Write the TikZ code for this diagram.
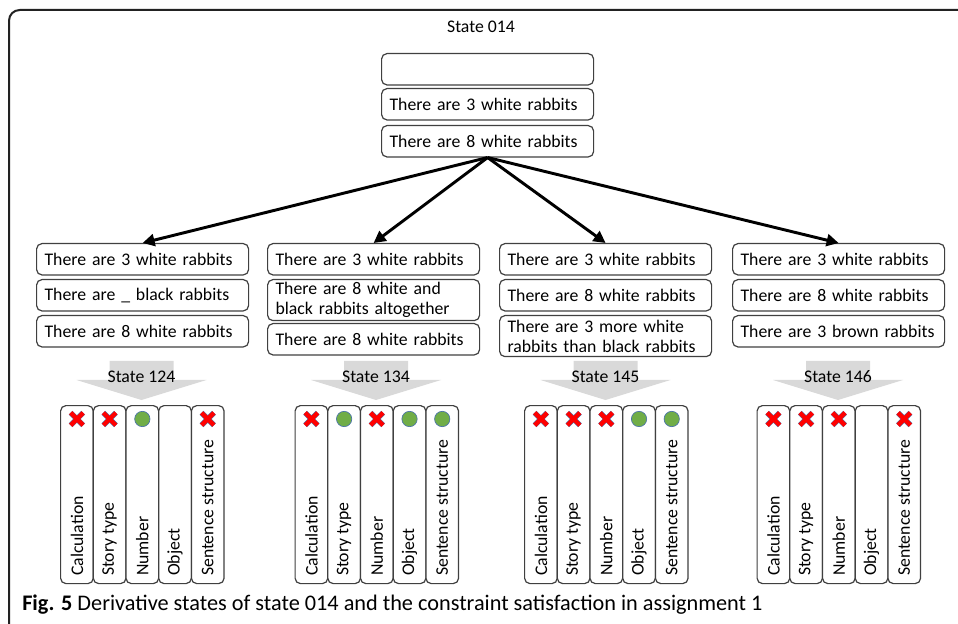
\documentclass[tikz,border=0pt]{standalone}
\usepackage{fontspec}
\setmainfont{Carlito}
\usetikzlibrary{arrows.meta,positioning,shapes.misc}
\hyphenpenalty=10000
\definecolor{rabEdge}{HTML}{404040}
\definecolor{rabFrame}{HTML}{222222}
\definecolor{rabGray}{HTML}{D9D9D9}
\definecolor{rabRed}{HTML}{FF0000}
\definecolor{rabGreen}{HTML}{70AD47}
\definecolor{rabBlue}{HTML}{4A73A8}
\tikzset{
  rabtext/.style={font=\fontsize{13.3}{15}\selectfont},
  rabbox/.style={rabtext,draw=rabEdge,line width=0.9pt,rounded corners=4pt,
                 fill=white,anchor=north west,align=left,text width=147pt,
                 inner xsep=6pt,inner ysep=0pt,minimum height=23.5pt},
  rabtall/.style={rabbox,minimum height=30.75pt},
  rabarrow/.style={-{Triangle[length=9pt,width=9pt]},line width=2.2pt,black},
  rabcol/.style={draw=rabEdge,line width=0.9pt,rounded corners=4pt,
                 fill=white,anchor=north west,minimum width=24.5pt,
                 minimum height=133.5pt,inner sep=0pt},
  rablabel/.style={rabtext,rotate=90,anchor=west,inner sep=0pt},
  rabno/.style={cross out,draw=rabBlue,double=rabRed,line width=0.35pt,
                double distance=3.3pt,minimum size=9pt,inner sep=0pt},
  rabyes/.style={circle,draw=rabBlue,fill=rabGreen,line width=0.5pt,
                 minimum size=11.5pt,inner sep=0pt},
  rabnone/.style={inner sep=0pt,minimum size=8pt}
}
\begin{document}
\begin{tikzpicture}[x=0.75pt,y=-0.75pt]
    \useasboundingbox (0,0) rectangle (958,624);
    \draw[rabFrame,line width=1.5pt,rounded corners=8pt]
      (9,624) -- (9,10) -- (958,10);

    % the state that is derived from
    \node[rabtext] (t014) at (481,27) {State 014};
    \node[rabbox] (a1) at (381,53) {};
    \node[rabbox] (a2) at (381,88) {There are 3 white rabbits};
    \node[rabbox] (a3) at (381,125) {There are 8 white rabbits};

    % derivative states
    \node[rabbox] (b1) at (36,243) {There are 3 white rabbits};
    \node[rabbox] (b2) at (36,279) {There are \_ black rabbits};
    \node[rabbox] (b3) at (36,315) {There are 8 white rabbits};

    \node[rabbox] (c1) at (267,243) {There are 3 white rabbits};
    \node[rabtall] (c2) at (267,279) {There are 8 white and\\black rabbits altogether};
    \node[rabbox] (c3) at (267,323) {There are 8 white rabbits};

    \node[rabbox] (d1) at (499,243) {There are 3 white rabbits};
    \node[rabbox] (d2) at (499,279) {There are 8 white rabbits};
    \node[rabtall] (d3) at (499,315) {There are 3 more white\\rabbits than black rabbits};

    \node[rabbox] (e1) at (732,243) {There are 3 white rabbits};
    \node[rabbox] (e2) at (732,279) {There are 8 white rabbits};
    \node[rabbox] (e3) at (732,315) {There are 3 brown rabbits};

    \draw[rabarrow] (a3.south) -- (b1.north);
    \draw[rabarrow] (a3.south) -- (c1.north);
    \draw[rabarrow] (a3.south) -- (d1.north);
    \draw[rabarrow] (a3.south) -- (e1.north);

    % constraint satisfaction
    \foreach \cx/\st/\ma/\mb/\mc/\md/\me in {141.5/124/no/no/yes/none/no,
        376/134/no/yes/no/yes/yes,605.5/145/no/no/no/yes/yes,
        838/146/no/no/no/none/no}{
      \fill[rabGray] (\cx-32,361) -- (\cx+32,361) -- (\cx+32,380)
        -- (\cx+65,380) -- (\cx,400) -- (\cx-65,380) -- (\cx-32,380) -- cycle;
      \node[rabtext] (s\st) at (\cx,377) {State \st};
      \foreach \lab/\mk [count=\i] in {Calculation/\ma,Story type/\mb,
          Number/\mc,Object/\md,Sentence structure/\me}{
        \node[rabcol] (k\st-\i) at (\cx-81.5+32.7*\i-32.7,405) {};
        \node[rab\mk] (m\st-\i) at ([yshift=-10.5pt]k\st-\i.north) {};
        \node[rablabel] (l\st-\i) at ([yshift=6pt]k\st-\i.south) {\lab};
      }
    }

    \node[anchor=west,inner sep=0pt,font=\fontsize{16.7}{18}\selectfont]
      (cap) at (22,605) {\textbf{Fig. 5} Derivative states of state 014 and
      the constraint satisfaction in assignment 1};
  \end{tikzpicture}
\end{document}
